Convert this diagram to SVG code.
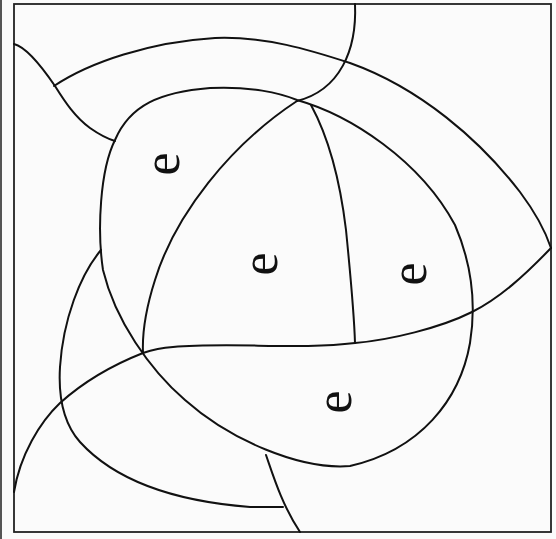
<svg xmlns="http://www.w3.org/2000/svg" width="556" height="539" viewBox="0 0 556 539">
<style>
.ln{fill:none;stroke:#111;stroke-width:2;stroke-linecap:round;stroke-linejoin:round}
.fr{fill:none;stroke:#222;stroke-width:1.8}
.lbl{font-family:"Liberation Serif","DejaVu Serif",serif;font-size:52px;fill:#111;text-anchor:middle}
</style>
<rect x="0" y="0" width="556" height="539" fill="#fbfbfb"/>
<line x1="1" y1="0" x2="1" y2="539" stroke="#555" stroke-width="2"/>
<g id="frame"><rect class="fr" x="14" y="4" width="537" height="528"/></g>
<g id="connectors">
<path class="ln" d="M14,44 C26,47 40,64 55,86 C65,102 75,117 90,128 C100,135 108,139 115,141"/>
<path class="ln" d="M54,86 C90,62 150,42 215,38 C265,36 310,50 350,63 C420,88 480,140 520,192 C535,212 545,230 551,248"/>
<path class="ln" d="M355,4 C357,50 340,90 297,101"/>
<path class="ln" d="M297,101 C230,145 175,215 155,280 C147,305 142,330 143,353"/>
<path class="ln" d="M297,100 C350,115 420,160 455,225 C470,260 477,300 470,343 C460,400 420,450 350,466 C300,470 230,440 185,400 C150,370 115,320 103,270 C97,230 100,170 115,140 C130,105 160,92 210,88 C250,86 280,93 297,100 Z"/>
<path class="ln" d="M311,105 C330,140 340,180 346,230 C350,270 354,310 355,343"/>
<path class="ln" d="M551,248 C525,275 500,298 472,312 C440,328 390,340 355,343 C300,350 230,342 173,347 C160,348 152,350 143,353 C110,366 80,385 60,403 C40,422 20,455 14,492"/>
<path class="ln" d="M101,250 C80,275 63,320 60,367 C58,400 65,425 80,442 C110,475 160,500 250,507 L283,507"/>
<path class="ln" d="M266,455 C273,475 282,505 300,532"/>
</g>
<g id="label-1"><text class="lbl" transform="translate(167,164) rotate(-90)" x="0" y="12">e</text></g>
<g id="label-2"><text class="lbl" transform="translate(265,264) rotate(-90)" x="0" y="12">e</text></g>
<g id="label-3"><text class="lbl" transform="translate(414,274) rotate(-90)" x="0" y="12">e</text></g>
<g id="label-4"><text class="lbl" transform="translate(339,402) rotate(-90)" x="0" y="12">e</text></g>
</svg>
